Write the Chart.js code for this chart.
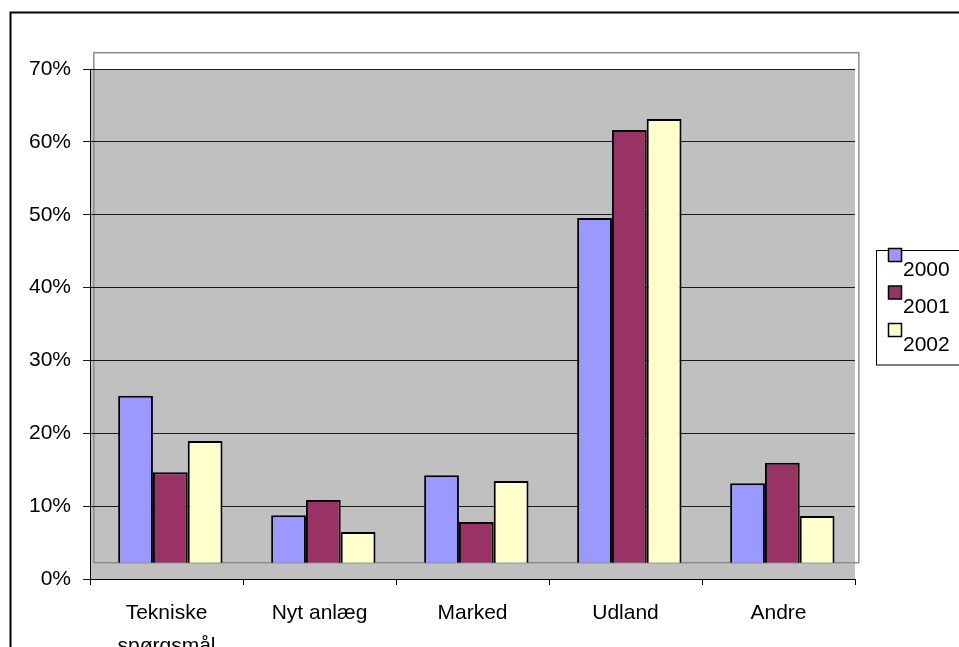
<!DOCTYPE html>
<html>
<head>
<meta charset="utf-8">
<script src="https://cdn.jsdelivr.net/npm/chart.js@4.4.1/dist/chart.umd.min.js"></script>
<style>
  html, body { margin: 0; padding: 0; background: #fff; }
  canvas { display: block; }
</style>
</head>
<body>
<canvas id="myChart" width="959" height="647"></canvas>
<script>
// data (share of enquiries, %)
var categories = [['Tekniske', 'spørgsmål'], 'Nyt anlæg', 'Marked', 'Udland', 'Andre'];
var years = ['2000', '2001', '2002'];
var values2000 = [22.9, 6.5, 12.0, 47.3, 10.9];
var values2001 = [12.4, 8.6, 5.6, 59.4, 13.7];
var values2002 = [16.7, 4.2, 11.2, 60.9, 6.4];
var yMax = 70;
var yStep = 10;

var colors = ['#9999ff', '#993366', '#ffffcc'];
var fontFamily = "'Liberation Sans', Arial, sans-serif";
var fontSize = 21;

// the columns stand on the back wall of the old 3D chart: shift them
var depthX = 0.025;  // in categories
var depthY = 2.24;   // in %

function toPoints(vals) {
  return vals.map(function (v, i) { return {x: i, y: v}; });
}

var backdrop = {
  id: 'backdrop',
  beforeDraw: function (chart) {
    var ctx = chart.ctx, a = chart.chartArea;
    var xb = chart.scales.xb, yb = chart.scales.yb;
    ctx.save();
    ctx.fillStyle = '#fff';
    ctx.fillRect(0, 0, chart.width, chart.height);
    ctx.fillStyle = '#c0c0c0';
    ctx.fillRect(a.left, a.top, a.right - a.left, a.bottom - a.top);
    // back wall outline
    var l = xb.getPixelForValue(-0.5), r = xb.getPixelForValue(categories.length - 0.5);
    var t = yb.getPixelForValue(yMax), b = yb.getPixelForValue(0);
    ctx.strokeStyle = '#8c8c8c';
    ctx.lineWidth = 1.5;
    ctx.strokeRect(l, t, r - l, b - t);
    // outer frame
    ctx.strokeStyle = '#000';
    ctx.lineWidth = 2;
    ctx.strokeRect(10.5, 12.5, chart.width + 20, chart.height + 20);
    ctx.restore();
  }
};

var boxLegend = {
  id: 'boxLegend',
  afterDraw: function (chart) {
    var ctx = chart.ctx;
    ctx.save();
    ctx.strokeStyle = '#000';
    ctx.lineWidth = 1;
    ctx.strokeRect(876.5, 250.5, 120, 114.5);
    ctx.font = fontSize + 'px ' + fontFamily;
    ctx.textBaseline = 'alphabetic';
    ctx.textAlign = 'left';
    chart.data.datasets.forEach(function (ds, i) {
      var y = 248.5 + i * 37.5;
      ctx.fillStyle = ds.backgroundColor;
      ctx.fillRect(888.5, y, 13, 13);
      ctx.lineWidth = 1.5;
      ctx.strokeStyle = '#000';
      ctx.strokeRect(888.5, y, 13, 13);
      ctx.fillStyle = '#000';
      ctx.fillText(ds.label, 903, 275.7 + i * 37.5);
    });
    ctx.restore();
  }
};

var seriesValues = [values2000, values2001, values2002];
var datasets = years.map(function (y, i) {
  return {
    label: y,
    data: toPoints(seriesValues[i]),
    backgroundColor: colors[i],
    borderColor: '#000',
    borderWidth: 2,
    xAxisID: 'xb',
    yAxisID: 'yb',
    categoryPercentage: 0.682,
    barPercentage: 1.0
  };
});

var ctx = document.getElementById('myChart').getContext('2d');
var myChart = new Chart(ctx, {
  type: 'bar',
  data: {
    labels: categories,
    datasets: datasets
  },
  options: {
    responsive: false,
    animation: false,
    devicePixelRatio: 1,
    layout: { padding: { top: 69, right: 104, left: 0, bottom: 0 } },
    plugins: {
      legend: { display: false },
      tooltip: { enabled: false }
    },
    scales: {
      x: {
        type: 'category',
        offset: true,
        grid: { offset: true, drawOnChartArea: false, tickLength: 6, color: '#000', lineWidth: 1 },
        border: { color: '#000', width: 1 },
        ticks: { color: '#000', font: { family: fontFamily, size: fontSize, lineHeight: '33px' }, padding: 12, maxRotation: 0, autoSkip: false },
        afterFit: function (s) { s.height = 68; }
      },
      xb: {
        type: 'linear',
        display: false,
        offset: false,
        min: -0.5 - depthX,
        max: categories.length - 0.5 - depthX,
        ticks: { stepSize: 1, includeBounds: false }
      },
      y: {
        min: 0,
        max: yMax,
        ticks: {
          stepSize: yStep,
          color: '#000',
          padding: 12,
          font: { family: fontFamily, size: fontSize },
          callback: function (v) { return v + '%'; }
        },
        grid: { color: '#1a1a1a', lineWidth: 1, tickLength: 7 },
        border: { color: '#000', width: 1 },
        afterFit: function (s) { s.width = 90; }
      },
      yb: {
        display: false,
        min: -depthY,
        max: yMax - depthY
      }
    }
  },
  plugins: [backdrop, boxLegend]
});
</script>
</body>
</html>
